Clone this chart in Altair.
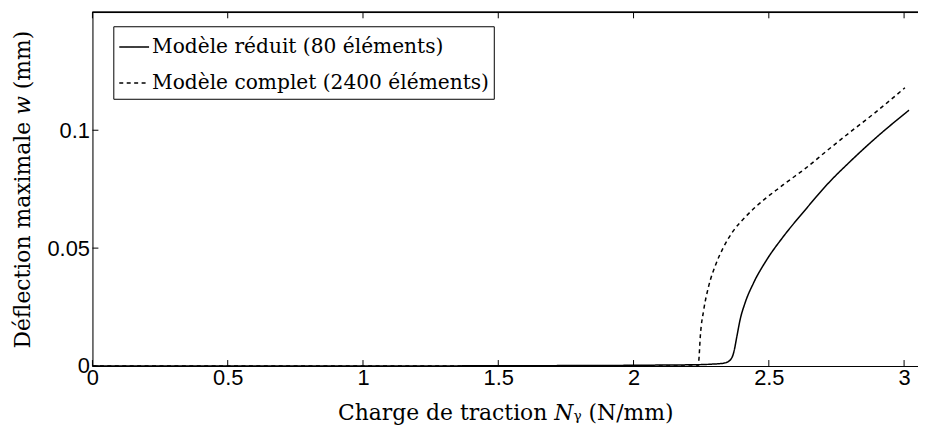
import altair as alt
import pandas as pd

# ---------------- data ----------------
series_labels = ["Modèle réduit (80 éléments)", "Modèle complet (2400 éléments)"]

reduit_x = [0, 1.0, 1.5, 1.8, 2.0, 2.1, 2.2, 2.25, 2.29, 2.333, 2.357, 2.370,
            2.382, 2.394, 2.412, 2.443, 2.492, 2.553, 2.633, 2.718, 2.804,
            2.890, 3.018]
reduit_y = [0, 0, 0.0001, 0.0002, 0.0003, 0.0004, 0.0005, 0.0006, 0.0008,
            0.0012, 0.0025, 0.0056, 0.0126, 0.0197, 0.0267, 0.0351, 0.045,
            0.0548, 0.066, 0.0773, 0.0871, 0.0962, 0.1085]

complet_x = [0, 2.238, 2.241, 2.247, 2.259, 2.278, 2.302, 2.333, 2.370, 2.420,
             2.555, 2.633, 2.718, 2.804, 2.890, 3.003]
complet_y = [0, 0, 0.002, 0.013, 0.0235, 0.034, 0.0425, 0.0505, 0.0575,
             0.064, 0.077, 0.0836, 0.0916, 0.0995, 0.1072, 0.118]

x_ticks = [0, 0.5, 1, 1.5, 2, 2.5, 3]
y_ticks = [0, 0.05, 0.1]

X_MAX = 3.0514
Y_MAX = 0.15

# ---------------- build ----------------
df = pd.concat([
    pd.DataFrame({"x": reduit_x, "y": reduit_y, "modele": series_labels[0], "o": range(len(reduit_x))}),
    pd.DataFrame({"x": complet_x, "y": complet_y, "modele": series_labels[1], "o": range(len(complet_x))}),
])

SERIF = "DejaVu Serif"
SANS = "Liberation Sans"

xscale = alt.Scale(domain=[0, X_MAX], nice=False, zero=False)
yscale = alt.Scale(domain=[0, Y_MAX], nice=False, zero=False)

W, H = 831, 356
tick_px = 6
tx = tick_px * X_MAX / W
ty = tick_px * Y_MAX / H

lines = alt.Chart(df).mark_line(color="black", strokeWidth=1.5, interpolate="monotone").encode(
    x=alt.X("x:Q", scale=xscale,
            axis=alt.Axis(values=x_ticks, format="~g", title="Charge de traction 𝑁ᵧ (N/mm)",
                          ticks=False, grid=False, labelFont=SANS, labelFontSize=22,
                          labelPadding=2, titleFont=SERIF, titleFontSize=22,
                          titleFontWeight="normal", titlePadding=14,
                          domainColor="black", labelColor="black", titleColor="black",
                          labelFlush=False)),
    y=alt.Y("y:Q", scale=yscale,
            axis=alt.Axis(values=y_ticks, format="~g", title="Déflection maximale 𝑤 (mm)",
                          ticks=False, grid=False, labelFont=SANS, labelFontSize=22,
                          labelPadding=3, titleFont=SERIF, titleFontSize=22,
                          titleFontWeight="normal", titlePadding=13,
                          domainColor="black", labelColor="black", titleColor="black",
                          labelFlush=False)),
    strokeDash=alt.StrokeDash("modele:N",
        scale=alt.Scale(domain=series_labels, range=[[1, 0], [4, 3.5]]),
        legend=alt.Legend(title=None, orient="none", legendX=21, legendY=14,
                          symbolType="stroke", symbolSize=900, symbolStrokeWidth=1.5,
                          symbolStrokeColor="black", labelFont=SERIF, labelFontSize=20.3,
                          labelColor="black", labelOffset=2, labelLimit=600,
                          rowPadding=9, padding=5, strokeColor="black",
                          fillColor="white", cornerRadius=0)),
    order="o:Q",
)

xt = pd.DataFrame({"t": x_ticks})
yt = pd.DataFrame({"t": y_ticks})

bottom_ticks = alt.Chart(xt).mark_rule(color="black", strokeWidth=1).encode(
    x=alt.X("t:Q", scale=xscale), y=alt.datum(0), y2=alt.datum(ty))
top_ticks = alt.Chart(xt).mark_rule(color="black", strokeWidth=1).encode(
    x=alt.X("t:Q", scale=xscale), y=alt.datum(Y_MAX), y2=alt.datum(Y_MAX - ty))
left_ticks = alt.Chart(yt).mark_rule(color="black", strokeWidth=1).encode(
    y=alt.Y("t:Q", scale=yscale), x=alt.datum(0), x2=alt.datum(tx))
top_border = alt.Chart(xt).mark_rule(color="black", strokeWidth=1).encode(
    y=alt.datum(Y_MAX), x=alt.datum(0), x2=alt.datum(X_MAX))

chart = alt.layer(bottom_ticks, top_ticks, left_ticks, top_border, lines).properties(
    width=W, height=H,
    padding={"left": 85, "right": 0, "top": 3, "bottom": 58},
    autosize=alt.AutoSizeParams(type="none"),
).configure_view(stroke=None).configure(background="white")

chart.save("out.html", embed_options={"renderer": "svg", "actions": False})
